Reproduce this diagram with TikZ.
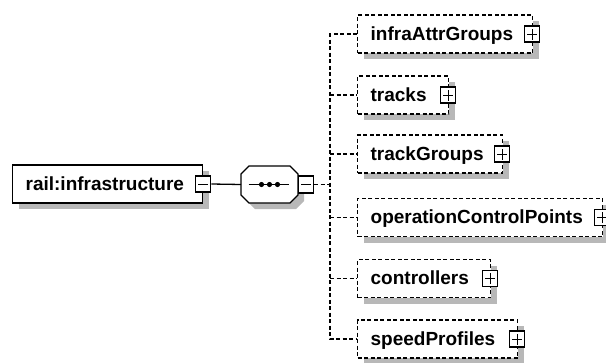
\documentclass[tikz,border=0pt]{standalone}
\usepackage{fontspec}
\setmainfont{Liberation Sans}
\usetikzlibrary{shadows}
\definecolor{shadowgray}{gray}{0.72}
\begin{document}
\begin{tikzpicture}[x=1pt,y=-1pt,
  font=\fontsize{19}{20}\selectfont\bfseries,
  shad/.style={drop shadow={shadow xshift=6pt,shadow yshift=-6pt,fill=shadowgray,opacity=1}},
  elem/.style={draw, line width=1.3pt, fill=white, shad, minimum height=38pt,
    text height=14pt, text depth=2pt, inner xsep=13pt, inner ysep=0pt, align=left, anchor=west},
  opt/.style={elem, dash pattern=on 4pt off 2.5pt},
  dl/.style={line width=1.3pt, dash pattern=on 4pt off 2.5pt},
  pm/.style={draw, fill=white, line width=1.1pt, minimum width=15pt, minimum height=16pt, inner sep=0pt},
  minusbox/.style={pm, path picture={\draw[line width=1pt]
     ([xshift=-5pt]path picture bounding box.center) -- ([xshift=5pt]path picture bounding box.center);}},
  plusbox/.style={pm, path picture={\draw[line width=1pt]
     ([xshift=-5pt]path picture bounding box.center) -- ([xshift=5pt]path picture bounding box.center)
     ([yshift=-5.5pt]path picture bounding box.center) -- ([yshift=5.5pt]path picture bounding box.center);}}
]
\useasboundingbox (0,0) rectangle (606,362);

% root element
\node[elem, text width=164pt] (root) at (12,184) {rail:infrastructure};
\node[minusbox] (m0) at (root.east) {};

% sequence compositor (octagon)
\coordinate (seq) at (269.5,184.5);
\begin{scope}[shift={(275.5,190.5)}]
  \fill[shadowgray] (-20.5,-18.5) -- (20.5,-18.5) -- (28.5,-10.5) -- (28.5,10.5) -- (20.5,18.5)
    -- (-20.5,18.5) -- (-28.5,10.5) -- (-28.5,-10.5) -- cycle;
\end{scope}
\begin{scope}[shift={(269.5,184.5)}]
  \draw[line width=1.3pt, fill=white] (-20.5,-18.5) -- (20.5,-18.5) -- (28.5,-10.5) -- (28.5,10.5) -- (20.5,18.5)
    -- (-20.5,18.5) -- (-28.5,10.5) -- (-28.5,-10.5) -- cycle;
\end{scope}
\coordinate (seqW) at (241,184.5);
\coordinate (seqE) at (298,184.5);
\draw[line width=1.1pt] ([xshift=-21pt]seq) -- ([xshift=19pt]seq);
\foreach \dx in {-8,0,8} \fill ([xshift=\dx pt]seq) circle (2.6pt);
\node[minusbox, minimum height=17pt] (m1) at (306,184.5) {};

\draw[line width=1.3pt] (m0.east) -- (seqW);

% bus
\coordinate (bus) at (330,0);

% child elements
\foreach \n/\y/\w/\lab in {1/34/175/infraAttrGroups, 2/95/91/tracks, 3/154/145/trackGroups,
    4/217.5/245/operationControlPoints, 5/278.5/133/controllers, 6/339/160/speedProfiles}{
  \pgfmathsetmacro\tw{\w-26}
  \node[opt, text width=\tw pt] (b\n) at (357,\y) {\lab};
  \node[plusbox] (p\n) at ([xshift=-1pt]b\n.east) {};
}

\draw[dl] (m1.east) -- (m1.east -| bus);
\draw[dl] (b1.west) -- (b1.west -| bus) -- (b6.west -| bus) -- (b6.west);
\foreach \n in {2,3,4,5} \draw[dl] (b\n.west -| bus) -- (b\n.west);
\end{tikzpicture}
\end{document}
